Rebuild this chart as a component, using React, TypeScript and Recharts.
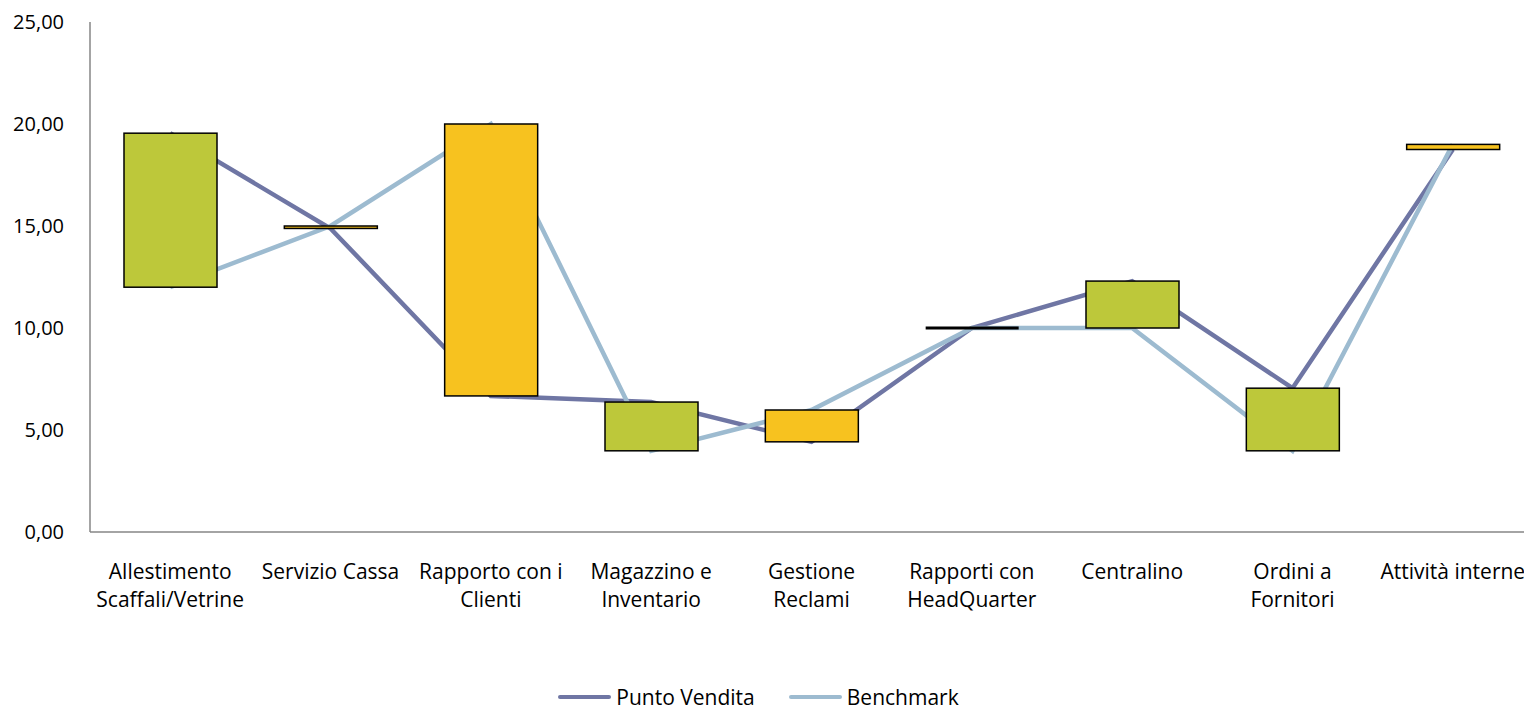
import React from 'react';
import { ComposedChart, Line, Bar, XAxis, YAxis, Legend } from 'recharts';

const categories = [
  'Allestimento\nScaffali/Vetrine',
  'Servizio Cassa',
  'Rapporto con i\nClienti',
  'Magazzino e\nInventario',
  'Gestione\nReclami',
  'Rapporti con\nHeadQuarter',
  'Centralino',
  'Ordini a\nFornitori',
  'Attività interne',
];
const puntoVendita = [19.55, 14.88, 6.67, 6.37, 4.42, 10.0, 12.3, 7.05, 18.75];
const benchmark = [12.0, 15.0, 20.0, 3.98, 5.98, 10.0, 10.0, 3.98, 19.0];
const yTicks = [0, 5, 10, 15, 20, 25];

const series = [
  { key: 'pv', name: 'Punto Vendita', color: '#6F76A4' },
  { key: 'bm', name: 'Benchmark', color: '#9DBBD0' },
];

const data = categories.map((name, i) => ({
  name,
  pv: puntoVendita[i],
  bm: benchmark[i],
  range: [Math.min(puntoVendita[i], benchmark[i]), Math.max(puntoVendita[i], benchmark[i])],
}));

const FONT = "'Open Sans', 'Noto Sans', sans-serif";
const W = 1545;
const H = 710;
const MARGIN = { top: 22, right: 12, left: 0, bottom: 0 };

// Excel style up/down bar: yellow when benchmark is higher, green otherwise
const UpDownBar = (props: any) => {
  const { x, y, width, height, payload } = props;
  const top = Math.min(y, y + height);
  const h = Math.abs(height);
  if (h < 1) {
    return <line x1={x} x2={x + width} y1={top} y2={top} stroke="#000" strokeWidth={3} />;
  }
  const up = payload.bm > payload.pv;
  return (
    <rect x={x} y={top} width={width} height={h} fill={up ? '#F7C21F' : '#BDC83A'} stroke="#000" strokeWidth={1.5} />
  );
};

const NoShape = () => <g />;

const CategoryTick = ({ x, y, payload }: any) => {
  const lines = String(payload.value).split('\n');
  return (
    <text x={x} y={y} textAnchor="middle" fill="#000" fontSize={21} fontFamily={FONT}>
      {lines.map((l, i) => (
        <tspan key={i} x={x} dy={i === 0 ? 39 : 28}>
          {l}
        </tspan>
      ))}
    </text>
  );
};

const LegendContent = () => (
  <div style={{ height: 48, display: 'flex', justifyContent: 'center', alignItems: 'flex-end', fontFamily: FONT, fontSize: 21, marginLeft: -16 }}>
    {series.map((s, i) => (
      <div key={s.key} style={{ display: 'flex', alignItems: 'center', marginLeft: i ? 34 : 0, lineHeight: '26px' }}>
        <span style={{ display: 'inline-block', width: 53, height: 4, borderRadius: 2, background: s.color, marginRight: 5 }} />
        <span style={{ color: '#000' }}>{s.name}</span>
      </div>
    ))}
  </div>
);

const yFmt = (v: number) => v.toFixed(2).replace('.', ',');

export default function App() {
  return (
    <div style={{ position: 'fixed', left: 0, top: 0, width: 1524, height: 710, overflow: 'hidden', background: '#fff' }}>
      {/* lines + axes */}
      <div style={{ position: 'absolute', left: 0, top: 0 }}>
        <ComposedChart width={W} height={H} data={data} margin={MARGIN}>
          <XAxis
            dataKey="name"
            interval={0}
            height={130}
            tickLine={false}
            axisLine={{ stroke: '#868686', strokeWidth: 1.5 }}
            tick={<CategoryTick />}
          />
          <YAxis
            width={90}
            domain={[0, 25]}
            ticks={yTicks}
            tickFormatter={yFmt}
            tickLine={false}
            tickMargin={20}
            axisLine={{ stroke: '#868686', strokeWidth: 1.5 }}
            tick={{ fill: '#000', fontSize: 20, fontFamily: FONT }}
          />
          {/* invisible bar keeps the band layout identical to the overlay */}
          <Bar dataKey="range" barSize={93} legendType="none" shape={<NoShape />} isAnimationActive={false} />
          {series.map((s) => (
            <Line
              key={s.key}
              dataKey={s.key}
              name={s.name}
              stroke={s.color}
              strokeWidth={4.5}
              dot={false}
              activeDot={false}
              type="linear"
              isAnimationActive={false}
            />
          ))}
          <Legend verticalAlign="bottom" content={<LegendContent />} />
        </ComposedChart>
      </div>
      {/* up/down bars drawn above the lines, same scales */}
      <div style={{ position: 'absolute', left: 0, top: 0, pointerEvents: 'none' }}>
        <ComposedChart width={W} height={H} data={data} margin={{ ...MARGIN, bottom: 48 }}>
          <XAxis dataKey="name" interval={0} height={130} tickLine={false} axisLine={false} tick={false} />
          <YAxis width={90} domain={[0, 25]} ticks={yTicks} tickLine={false} axisLine={false} tick={false} />
          <Bar dataKey="range" barSize={93} legendType="none" shape={<UpDownBar />} isAnimationActive={false} />
        </ComposedChart>
      </div>
    </div>
  );
}
